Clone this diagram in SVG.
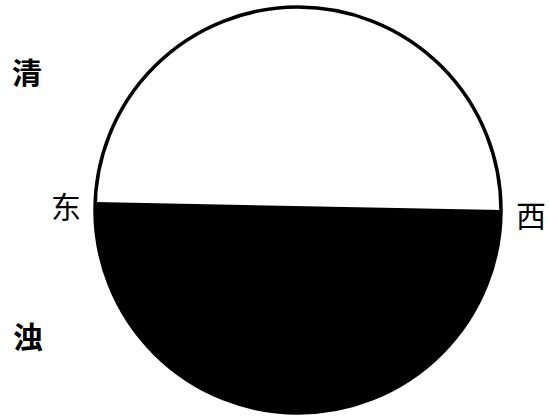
<svg xmlns="http://www.w3.org/2000/svg" width="549" height="416" viewBox="0 0 549 416">
<style>
text{font-family:"Noto Sans CJK SC","Noto Sans CJK TC",sans-serif;font-size:30px;fill:#000}
.b{font-weight:bold}
</style>
<rect width="549" height="416" fill="#fff"/>
<g id="circle">
<path d="M95.2 202 L501 210 A203 203 0 1 1 95.2 202 Z" fill="#000"/>
<circle cx="298" cy="210" r="203" fill="none" stroke="#000" stroke-width="3.5"/>
</g>
<g id="labels">
<text x="12" y="84" class="b">清</text>
<text x="51" y="218">东</text>
<text x="516" y="227">西</text>
<text x="13" y="348" class="b">浊</text>
</g>
</svg>
